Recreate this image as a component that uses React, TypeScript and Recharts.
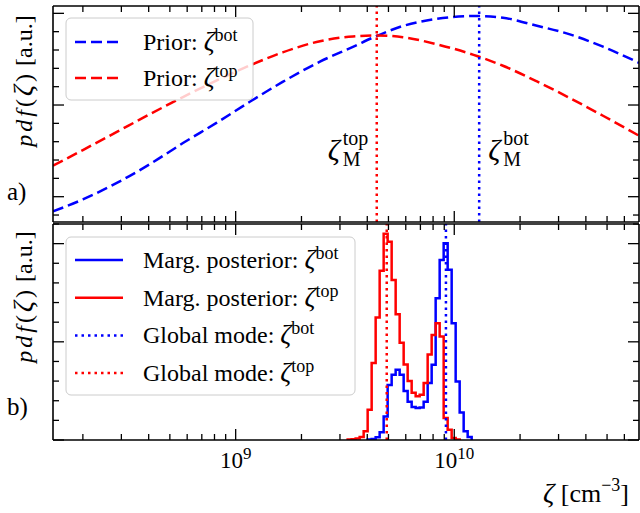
import React from 'react';
import { LineChart, Line, XAxis, YAxis, ReferenceLine } from 'recharts';

const SERIF = '"Liberation Serif", "Times New Roman", serif';
const INK = '#000';
const BLUE = '#0000ff';
const RED = '#ff0000';
const DASHED = '11 5';
const DOTTED = '2.5 4';

// shared zeta axis [cm^-3], log scale
const ZETA_RANGE: [number, number] = [1.46e8, 7.0e10];
const ZETA_TICKS = [
  2e8, 3e8, 4e8, 5e8, 6e8, 7e8, 8e8, 9e8,
  1e9, 2e9, 3e9, 4e9, 5e9, 6e9, 7e9, 8e9, 9e9,
  1e10, 2e10, 3e10, 4e10, 5e10, 6e10,
];

// a) priors, sampled along zeta
const PRIOR_ZETA = [
  1.46e8, 2.0e8, 2.86e8, 4.05e8, 5.74e8, 8.2e8, 1.16e9, 1.64e9, 2.43e9, 3.44e9,
  4.43e9, 5.82e9, 8.33e9, 1.27e10, 1.67e10, 2.39e10, 3.38e10, 4.79e10, 7.0e10,
];
const PRIOR_BOT = [
  -0.16, -0.03, 0.15, 0.355, 0.585, 0.808, 1.035, 1.252, 1.473, 1.635,
  1.755, 1.862, 1.94, 1.971, 1.952, 1.865, 1.77, 1.636, 1.46,
];
const PRIOR_TOP = [
  0.338, 0.509, 0.707, 0.9, 1.087, 1.268, 1.431, 1.574, 1.696, 1.748,
  1.758, 1.74, 1.662, 1.535, 1.428, 1.257, 1.076, 0.883, 0.665,
];
const PRIOR_MODE_BOT = 1.3e10;
const PRIOR_MODE_TOP = 4.42e9;
const PRIOR_Y_RANGE: [number, number] = [-0.276, 2.08];
const PRIOR_Y_TICKS = [-0.2, 0, 0.2, 0.4, 0.6, 0.8, 1, 1.2, 1.4, 1.6, 1.8, 2];

// b) marginal posteriors, histogram on equal log10(zeta) bins
const BIN_EDGE0 = 9.5123;
const BIN_STEP = 0.0183;
const POST_TOP_FIRST = 0;
const POST_TOP = [
  0.004, 0.008, 0.015, 0.031, 0.088, 0.309, 0.783, 1.248, 1.723, 2.1,
  2.02, 1.63, 1.28, 0.99, 0.77, 0.6, 0.48, 0.445, 0.46, 0.58,
  0.87, 1.07, 1.19, 1.055, 0.224, 0.105, 0.02, 0.005,
];
const POST_BOT_FIRST = 5;
const POST_BOT = [
  0.005, 0.01, 0.027, 0.08, 0.24, 0.56, 0.665, 0.715, 0.665, 0.5,
  0.39, 0.335, 0.325, 0.33, 0.39, 0.58, 0.766, 1.445, 1.834, 2.004,
  1.733, 1.19, 0.597, 0.28, 0.09, 0.03,
];
const GLOBAL_MODE_BOT = 9.16e9;
const GLOBAL_MODE_TOP = 4.91e9;
const POST_Y_RANGE: [number, number] = [0, 2.2];
const POST_Y_TICKS = [0, 0.2, 0.4, 0.6, 0.8, 1, 1.2, 1.4, 1.6, 1.8, 2, 2.2];

const priorBot = PRIOR_ZETA.map((z, i) => ({ z, v: PRIOR_BOT[i] }));
const priorTop = PRIOR_ZETA.map((z, i) => ({ z, v: PRIOR_TOP[i] }));

// closed step outline of a histogram (like histtype="step")
function stepOutline(first: number, counts: number[]) {
  const edge = (i: number) => Math.pow(10, BIN_EDGE0 + (first + i) * BIN_STEP);
  const pts = [{ z: edge(0), v: 0 }];
  counts.forEach((c, i) => pts.push({ z: edge(i), v: c }));
  pts.push({ z: edge(counts.length), v: 0 });
  return pts;
}
const postBot = stepOutline(POST_BOT_FIRST, POST_BOT);
const postTop = stepOutline(POST_TOP_FIRST, POST_TOP);

const isDecade = (v: number) => Math.abs(Math.log10(v) - Math.round(Math.log10(v))) < 1e-6;
const isWhole = (v: number) => Math.abs(v - Math.round(v)) < 1e-6;
const tickLen = (major: boolean) => (major ? 11 : 6);
const axisLine = { stroke: INK, strokeWidth: 1.6 };

// inward ticks on horizontal spines; dir=-1 points up
const xTick = (dir: 1 | -1, labelled = false) => (p: any) => {
  const v = p.payload.value as number;
  const major = isDecade(v);
  return (
    <g>
      <line x1={p.x} x2={p.x} y1={p.y} y2={p.y + dir * tickLen(major)} stroke={INK} strokeWidth={1.3} />
      {labelled && major ? (
        <text x={p.x} y={p.y + 28} textAnchor="middle" fontFamily={SERIF} fontSize={23} fill={INK}>
          10
          <tspan dy={-9} fontSize={17}>
            {Math.round(Math.log10(v))}
          </tspan>
        </text>
      ) : null}
    </g>
  );
};

// inward ticks on vertical spines; dir=1 points right
const yTick = (dir: 1 | -1) => (p: any) => {
  const major = isWhole(p.payload.value as number);
  return (
    <line x1={p.x} x2={p.x + dir * tickLen(major)} y1={p.y} y2={p.y} stroke={INK} strokeWidth={1.3} />
  );
};

const modeTag = (dx: number, sup: string) => (p: any) => {
  const vb = p.viewBox ?? { x: 0, y: 0 };
  const x = vb.x + dx;
  const y = vb.y + 154;
  return (
    <g fontFamily={SERIF} fill={INK}>
      <text x={x} y={y} fontSize={30} fontStyle="italic">
        ζ
      </text>
      <text x={x + 15} y={y - 15} fontSize={20}>
        {sup}
      </text>
      <text x={x + 15} y={y + 6} fontSize={20}>
        M
      </text>
    </g>
  );
};

type LegendRow = { text: string; sup: string; color: string; dash?: string };

const PRIOR_LEGEND: LegendRow[] = [
  { text: 'Prior: ', sup: 'bot', color: BLUE, dash: DASHED },
  { text: 'Prior: ', sup: 'top', color: RED, dash: DASHED },
];
const POST_LEGEND: LegendRow[] = [
  { text: 'Marg. posterior: ', sup: 'bot', color: BLUE },
  { text: 'Marg. posterior: ', sup: 'top', color: RED },
  { text: 'Global mode: ', sup: 'bot', color: BLUE, dash: DOTTED },
  { text: 'Global mode: ', sup: 'top', color: RED, dash: DOTTED },
];

function LegendBox({ x, y, w, h, rows, firstRow, rowStep }: {
  x: number; y: number; w: number; h: number; rows: LegendRow[]; firstRow: number; rowStep: number;
}) {
  return (
    <g>
      <rect x={x} y={y} width={w} height={h} rx={5} fill="rgba(255,255,255,0.8)" stroke="#cccccc" strokeWidth={1} />
      {rows.map((r, i) => {
        const cy = firstRow + i * rowStep;
        return (
          <g key={i}>
            <line x1={x + 9} x2={x + 57} y1={cy} y2={cy} stroke={r.color} strokeWidth={2.5} strokeDasharray={r.dash} />
            <text x={x + 77} y={cy + 8} fontSize={24} fill={INK}>
              {r.text}
              <tspan fontStyle="italic" fontSize={27}>ζ</tspan>
              <tspan dy={-9} fontSize={18}>
                {r.sup}
              </tspan>
            </text>
          </g>
        );
      })}
    </g>
  );
}

function PdfLabel({ cx, cy }: { cx: number; cy: number }) {
  return (
    <text transform={`translate(${cx},${cy}) rotate(-90)`} textAnchor="middle" fontSize={24} fill={INK}>
      <tspan fontStyle="italic" letterSpacing={3}>pdf</tspan>
      <tspan letterSpacing={3}>(</tspan>
      <tspan fontStyle="italic" fontSize={27} letterSpacing={3}>ζ</tspan>)
      <tspan dx={8}>[a.u.]</tspan>
    </text>
  );
}

// the four framing axes of one panel; each axis is 1px thick so it is drawn
function Frame(yRange: [number, number], yTicks: number[], labelled: boolean) {
  return [
    <XAxis key="xb" xAxisId="b" type="number" dataKey="z" scale="log" domain={ZETA_RANGE} allowDataOverflow
      ticks={ZETA_TICKS} interval={0} height={1} tickSize={0} tickMargin={0} tickLine={false}
      axisLine={axisLine} tick={xTick(-1, labelled)} />,
    <XAxis key="xt" xAxisId="t" orientation="top" type="number" dataKey="z" scale="log" domain={ZETA_RANGE}
      allowDataOverflow ticks={ZETA_TICKS} interval={0} height={1} tickSize={0} tickMargin={0} tickLine={false}
      axisLine={axisLine} tick={xTick(1)} />,
    <YAxis key="yl" yAxisId="l" type="number" domain={yRange} allowDataOverflow ticks={yTicks}
      interval={0} width={1} tickSize={0} tickMargin={0} tickLine={false} axisLine={axisLine} tick={yTick(1)} />,
    <YAxis key="yr" yAxisId="r" orientation="right" type="number" domain={yRange} allowDataOverflow ticks={yTicks}
      interval={0} width={1} tickSize={0} tickMargin={0} tickLine={false} axisLine={axisLine} tick={yTick(-1)} />,
  ];
}

export default function App() {
  return (
    <div style={{ position: 'absolute', left: 0, top: 0, width: 640, height: 513, background: '#fff', overflow: 'hidden' }}>
      {/* a) priors */}
      <div style={{ position: 'absolute', left: 0, top: 0 }}>
        <LineChart width={640} height={230} margin={{ top: 5, right: 0, bottom: 7, left: 52 }}>
          {Frame(PRIOR_Y_RANGE, PRIOR_Y_TICKS, false)}
          <Line xAxisId="b" yAxisId="l" data={priorBot} dataKey="v" type="monotone" stroke={BLUE}
            strokeWidth={2.5} strokeDasharray={DASHED} dot={false} isAnimationActive={false} />
          <Line xAxisId="b" yAxisId="l" data={priorTop} dataKey="v" type="monotone" stroke={RED}
            strokeWidth={2.5} strokeDasharray={DASHED} dot={false} isAnimationActive={false} />
          <ReferenceLine xAxisId="b" yAxisId="l" x={PRIOR_MODE_TOP} stroke={RED} strokeWidth={2.5}
            strokeDasharray={DOTTED} label={modeTag(-49, 'top')} />
          <ReferenceLine xAxisId="b" yAxisId="l" x={PRIOR_MODE_BOT} stroke={BLUE} strokeWidth={2.5}
            strokeDasharray={DOTTED} label={modeTag(9, 'bot')} />
        </LineChart>
      </div>

      {/* b) marginal posteriors */}
      <div style={{ position: 'absolute', left: 0, top: 0 }}>
        <LineChart width={640} height={513} margin={{ top: 223, right: 0, bottom: 72, left: 52 }}>
          {Frame(POST_Y_RANGE, POST_Y_TICKS, true)}
          <Line xAxisId="b" yAxisId="l" data={postBot} dataKey="v" type="stepAfter" stroke={BLUE}
            strokeWidth={2.5} dot={false} isAnimationActive={false} />
          <Line xAxisId="b" yAxisId="l" data={postTop} dataKey="v" type="stepAfter" stroke={RED}
            strokeWidth={2.5} dot={false} isAnimationActive={false} />
          <ReferenceLine xAxisId="b" yAxisId="l" x={GLOBAL_MODE_BOT} stroke={BLUE} strokeWidth={2.5} strokeDasharray={DOTTED} />
          <ReferenceLine xAxisId="b" yAxisId="l" x={GLOBAL_MODE_TOP} stroke={RED} strokeWidth={2.5} strokeDasharray={DOTTED} />
        </LineChart>
      </div>

      {/* labels and legends */}
      <svg width={640} height={513} style={{ position: 'absolute', left: 0, top: 0, pointerEvents: 'none' }}
        fontFamily={SERIF}>
        <PdfLabel cx={32} cy={81} />
        <PdfLabel cx={32} cy={297} />
        <text x={7} y={200} fontSize={25} fill={INK}>a)</text>
        <text x={7} y={415} fontSize={25} fill={INK}>b)</text>
        <text x={629} y={502} textAnchor="end" fontSize={26} fill={INK}>
          <tspan fontStyle="italic" fontSize={28}>ζ</tspan> [cm
          <tspan dy={-11} fontSize={18}>−3</tspan>
          <tspan dy={11}>]</tspan>
        </text>
        <LegendBox x={66} y={18} w={187} h={82} rows={PRIOR_LEGEND} firstRow={42} rowStep={36} />
        <LegendBox x={66} y={237} w={289} h={158} rows={POST_LEGEND} firstRow={260} rowStep={37.7} />
      </svg>
    </div>
  );
}
